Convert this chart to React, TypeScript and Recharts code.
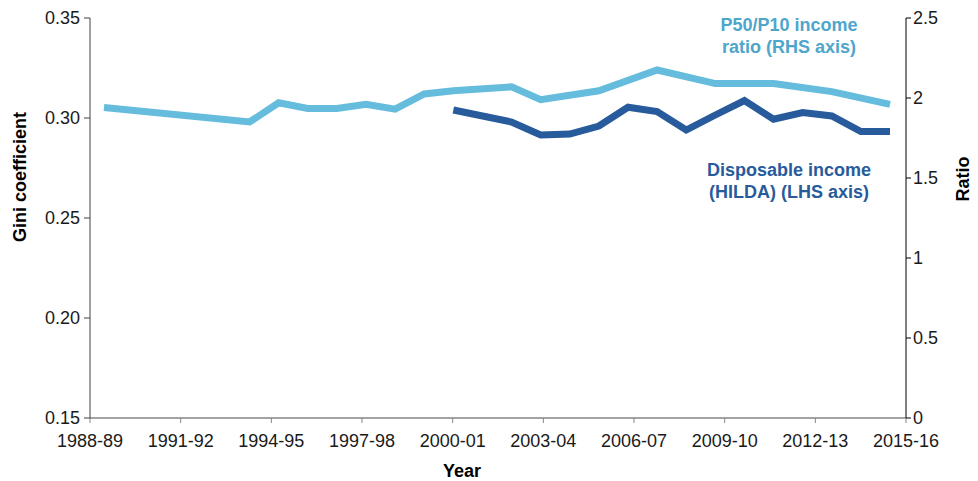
import React from 'react';
import { LineChart, Line, XAxis, YAxis } from 'recharts';

const years = [
  '1988-89', '1989-90', '1990-91', '1991-92', '1992-93', '1993-94', '1994-95',
  '1995-96', '1996-97', '1997-98', '1998-99', '1999-00', '2000-01', '2001-02',
  '2002-03', '2003-04', '2004-05', '2005-06', '2006-07', '2007-08', '2008-09',
  '2009-10', '2010-11', '2011-12', '2012-13', '2013-14', '2014-15', '2015-16',
];

// P50/P10 income ratio (RHS axis)
const p50p10: (number | null)[] = [
  1.94, null, null, null, null, 1.85, 1.97, 1.935, 1.935, 1.96, 1.93, 2.025,
  2.045, null, 2.07, 1.99, null, 2.045, null, 2.175, null, 2.09, null, 2.09,
  null, 2.04, null, 1.96,
];

// Disposable income Gini (HILDA) (LHS axis)
const giniHilda: (number | null)[] = [
  null, null, null, null, null, null, null, null, null, null, null, null,
  0.304, null, 0.298, 0.2915, 0.292, 0.296, 0.3054, 0.3032, 0.294, 0.3015,
  0.3087, 0.2994, 0.3027, 0.301, 0.2932, 0.2932,
];

const xTickIdx = [0, 3, 6, 9, 12, 15, 18, 21, 24, 27];
const giniTicks = [0.15, 0.2, 0.25, 0.3, 0.35];
const ratioTicks = [0, 0.5, 1, 1.5, 2, 2.5];

const FONT = '"Liberation Sans", Arial, Helvetica, sans-serif';
const LIGHT = '#65BCDD';
const DARK = '#275B9B';

const tickStyle = { fontSize: 18, fill: '#1a1a1a', fontFamily: FONT };

export default function App() {
  const data = years.map((year, i) => ({
    idx: i,
    year,
    ratio: p50p10[i],
    gini: giniHilda[i],
  }));

  const boldText: React.CSSProperties = {
    position: 'absolute',
    fontFamily: FONT,
    fontWeight: 'bold',
    fontSize: 18,
    lineHeight: '22px',
    whiteSpace: 'nowrap',
    textAlign: 'center',
  };

  return (
    <div style={{ position: 'absolute', left: 0, top: 0, width: 978, height: 481, background: '#fff' }}>
      <LineChart
        width={978}
        height={481}
        data={data}
        margin={{ top: 18, right: 22, bottom: 33, left: 30 }}
      >
        <XAxis
          xAxisId="ticks"
          type="number"
          dataKey="idx"
          domain={[0, 27]}
          ticks={xTickIdx}
          tickFormatter={(v: number) => years[v]}
          interval={0}
          height={30}
          tick={tickStyle}
          tickSize={5}
          tickMargin={11}
          stroke="#858585"
          axisLine={{ stroke: '#858585', strokeWidth: 1.5 }}
          tickLine={{ stroke: '#858585' }}
          allowDataOverflow
        />
        <XAxis
          xAxisId="data"
          orientation="top"
          type="number"
          dataKey="idx"
          domain={[0, 27]}
          padding={{ left: 14, right: 16 }}
          height={0}
          hide
        />
        <YAxis
          yAxisId="left"
          domain={[0.15, 0.35]}
          ticks={giniTicks}
          tickFormatter={(v: number) => v.toFixed(2)}
          width={60}
          tick={tickStyle}
          tickSize={6}
          tickMargin={4}
          axisLine={{ stroke: '#404040' }}
          tickLine={{ stroke: '#404040' }}
          allowDataOverflow
        />
        <YAxis
          yAxisId="right"
          orientation="right"
          domain={[0, 2.5]}
          ticks={ratioTicks}
          width={50}
          tick={tickStyle}
          tickSize={5}
          tickMargin={2}
          axisLine={{ stroke: '#000' }}
          tickLine={{ stroke: '#000' }}
          allowDataOverflow
        />
        <Line
          xAxisId="data"
          yAxisId="right"
          type="linear"
          dataKey="ratio"
          stroke={LIGHT}
          strokeWidth={7}
          dot={false}
          activeDot={false}
          connectNulls
          isAnimationActive={false}
          strokeLinejoin="miter"
          strokeLinecap="butt"
        />
        <Line
          xAxisId="data"
          yAxisId="left"
          type="linear"
          dataKey="gini"
          stroke={DARK}
          strokeWidth={7}
          dot={false}
          activeDot={false}
          connectNulls
          isAnimationActive={false}
          strokeLinejoin="miter"
          strokeLinecap="butt"
        />
      </LineChart>

      <div style={{ ...boldText, left: 689, top: 14, width: 200, color: '#4EA6CB' }}>
        P50/P10 income<br />ratio (RHS axis)
      </div>
      <div style={{ ...boldText, left: 689, top: 159, width: 200, color: DARK }}>
        Disposable income<br />(HILDA) (LHS axis)
      </div>
      <div
        style={{
          ...boldText,
          left: 20 - 100,
          top: 177 - 11,
          width: 200,
          height: 22,
          color: '#000',
          transform: 'rotate(-90deg)',
        }}
      >
        Gini coefficient
      </div>
      <div
        style={{
          ...boldText,
          left: 963 - 50,
          top: 179 - 11,
          width: 100,
          height: 22,
          color: '#000',
          transform: 'rotate(-90deg)',
        }}
      >
        Ratio
      </div>
      <div style={{ ...boldText, left: 462 - 50, top: 460, width: 100, color: '#000' }}>
        Year
      </div>
    </div>
  );
}
